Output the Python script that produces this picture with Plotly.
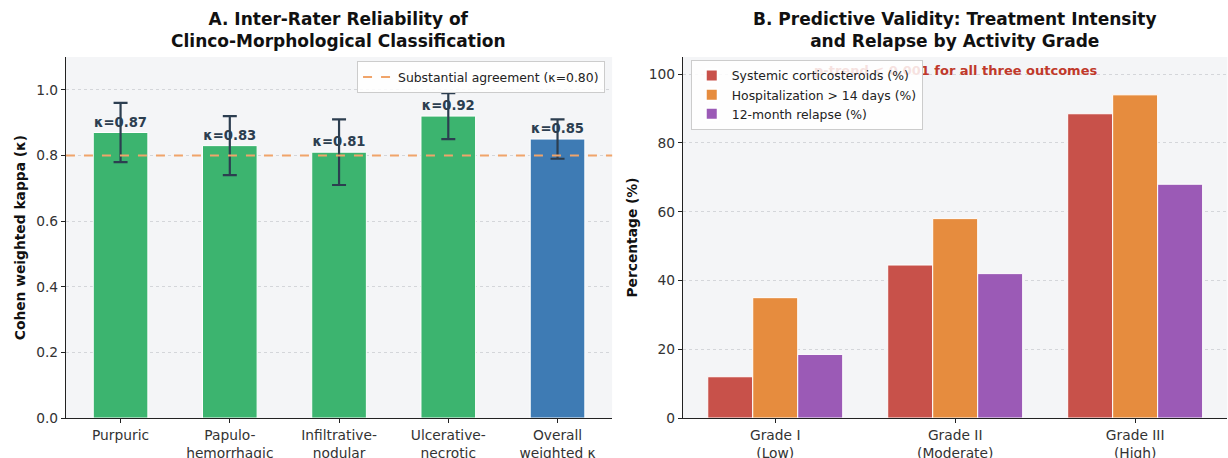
import plotly.graph_objects as go

# ---------------- Data ----------------
# Panel A
morph_categories = ["Purpuric", "Papulo-<br>hemorrhagic", "Infiltrative-<br>nodular",
                    "Ulcerative-<br>necrotic", "Overall<br>weighted κ"]
kappa_values = [0.87, 0.83, 0.81, 0.92, 0.85]
kappa_lower = [0.78, 0.74, 0.71, 0.85, 0.79]
kappa_upper = [0.96, 0.92, 0.91, 0.99, 0.91]
substantial_threshold = 0.80

# Panel B
grade_categories = ["Grade I<br>(Low)", "Grade II<br>(Moderate)", "Grade III<br>(High)"]
steroids_pct = [12, 44.5, 88.5]
hospital_pct = [35, 58, 94]
relapse_pct = [18.5, 42, 68]
series_names = ["Systemic corticosteroids (%)", "Hospitalization > 14 days (%)", "12-month relapse (%)"]

# ---------------- Styling ----------------
FONT = "DejaVu Sans"
GREEN = "#3cb46f"
BLUE = "#3e7bb4"
RED = "#c8514a"
ORANGE = "#e68c3e"
PURPLE = "#9b5ab6"
DARK = "#2c3e50"
BG = "#f4f5f7"
TICK = 13.8

fig = go.Figure()

# Panel A bars
bar_colors = [GREEN] * 4 + [BLUE]
fig.add_trace(go.Bar(
    x=list(range(len(morph_categories))), y=kappa_values,
    width=0.5,
    marker=dict(color=bar_colors, line=dict(color="white", width=1)),
    error_y=dict(type="data", symmetric=False,
                 array=[u - v for u, v in zip(kappa_upper, kappa_values)],
                 arrayminus=[v - l for v, l in zip(kappa_values, kappa_lower)],
                 color=DARK, thickness=2.2, width=7),
    text=[f"κ={v:.2f}" for v in kappa_values],
    textposition="outside", cliponaxis=False,
    textfont=dict(family=FONT, size=13.2, color=DARK, weight="bold"),
    constraintext="none",
    showlegend=False, xaxis="x", yaxis="y",
))

# Legend entry for threshold line (line drawn as shape)
fig.add_trace(go.Scatter(
    x=[None], y=[None], mode="lines",
    line=dict(color="#f0a46a", width=2, dash="dash"),
    name="Substantial agreement (κ=0.80)",
    legend="legend2", xaxis="x", yaxis="y",
))
fig.add_shape(type="line", xref="x domain", yref="y", x0=0, x1=1,
              y0=substantial_threshold, y1=substantial_threshold,
              line=dict(color="#f0a46a", width=2, dash="dash"), layer="above")

# Panel B bars
for name, vals, col in zip(series_names, [steroids_pct, hospital_pct, relapse_pct], [RED, ORANGE, PURPLE]):
    fig.add_trace(go.Bar(
        x=list(range(len(grade_categories))), y=vals, name=name,
        marker=dict(color=col, line=dict(color="white", width=1)),
        xaxis="x2", yaxis="y2", legend="legend",
    ))

axis_common = dict(
    showline=True, linecolor="#222", linewidth=1.2, ticks="outside", ticklen=4,
    tickcolor="#222", tickfont=dict(family=FONT, size=TICK, color="#333"),
    zeroline=False, automargin=False,
)

fig.update_layout(
    width=1228, height=458,
    margin=dict(l=0, r=0, t=0, b=0, autoexpand=False),
    paper_bgcolor="white", plot_bgcolor=BG,
    font=dict(family=FONT, color="#222"),
    barmode="group", bargap=0.25, bargroupgap=0,
    xaxis=dict(domain=[0.0537, 0.4985], range=[-0.5, 4.5],
               tickvals=list(range(len(morph_categories))), ticktext=morph_categories,
               showgrid=False, **axis_common),
    yaxis=dict(domain=[0.0873, 0.8755], range=[0, 1.1], anchor="x",
               tickvals=[0, 0.2, 0.4, 0.6, 0.8, 1.0], tickformat=".1f",
               showgrid=True, gridcolor="#d4d6da", griddash="dot", gridwidth=1,
               title=dict(text="<b>Cohen weighted kappa (κ)</b>", font=dict(family=FONT, size=13.8, color="#111"),
                          standoff=7),
               **axis_common),
    xaxis2=dict(domain=[0.5562, 0.9995], range=[-0.5125, 2.5125], anchor="y2",
                tickvals=list(range(len(grade_categories))), ticktext=grade_categories,
                showgrid=False, **axis_common),
    yaxis2=dict(domain=[0.0873, 0.8755], range=[0, 105], anchor="x2",
                tickvals=[0, 20, 40, 60, 80, 100],
                showgrid=True, gridcolor="#d4d6da", griddash="dot", gridwidth=1,
                title=dict(text="<b>Percentage (%)</b>", font=dict(family=FONT, size=13.8, color="#111"),
                           standoff=7),
                **axis_common),
    legend=dict(x=0.5625, y=0.869, xanchor="left", yanchor="top",
                bgcolor="rgba(255,255,255,0.85)", bordercolor="#cccccc", borderwidth=1,
                font=dict(family=FONT, size=12.4, color="#222"),
                tracegroupgap=0, itemsizing="constant"),
    legend2=dict(x=0.4927, y=0.866, xanchor="right", yanchor="top",
                 bgcolor="rgba(255,255,255,0.85)", bordercolor="#cccccc", borderwidth=1,
                 font=dict(family=FONT, size=12.4, color="#222")),
    annotations=[
        dict(text="<b>A. Inter-Rater Reliability of<br>Clinco-Morphological Classification</b>",
             x=0.276, y=0.984, xref="paper", yref="paper", xanchor="center", yanchor="top",
             showarrow=False, font=dict(family=FONT, size=17, color="#111")),
        dict(text="<b>B. Predictive Validity: Treatment Intensity<br>and Relapse by Activity Grade</b>",
             x=0.778, y=0.984, xref="paper", yref="paper", xanchor="center", yanchor="top",
             showarrow=False, font=dict(family=FONT, size=17, color="#111")),
        dict(text="<b>p-trend < 0.001 for all three outcomes</b>", x=0.7425, y=0.847,
             xref="paper", yref="paper", xanchor="center", yanchor="middle", showarrow=False,
             font=dict(family=FONT, size=13, color="#c0392b")),
    ],
)
# centre the p-trend note on panel B
fig.layout.annotations[2].x = sum(fig.layout.xaxis2.domain) / 2 - 0.0

# Raise the legends above the annotation layer (as in the reference, where the legend hides part of the note)
post = """
var gd = document.getElementById('{plot_id}');
document.body.style.margin='0';
document.body.style.overflow='hidden';
function raise(){
  gd.querySelectorAll('g.legend, g.legend2').forEach(function(lg){ lg.parentNode.appendChild(lg); });
}
raise();
gd.on('plotly_afterplot', raise);
"""

fig.write_html("out.html", config={"displayModeBar": False}, post_script=post)
